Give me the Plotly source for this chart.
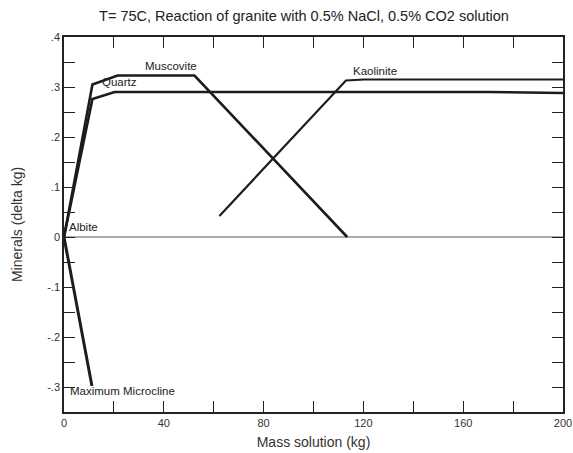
import plotly.graph_objects as go

# Data (mass solution kg, delta kg)
muscovite_x = [0, 11.4, 21.5, 52.3, 113.5]
muscovite_y = [0, 0.305, 0.323, 0.323, 0.0]

quartz_x = [0, 11.4, 20.3, 170.3, 200]
quartz_y = [0, 0.276, 0.290, 0.290, 0.288]

microcline_x = [0, 11.2]
microcline_y = [0, -0.298]

kaolinite_x = [62.3, 113.0, 120.3, 200]
kaolinite_y = [0.042, 0.313, 0.315, 0.315]

x_ticks = list(range(0, 201, 20))
x_tick_text = [str(v) if v % 40 == 0 else "" for v in x_ticks]
y_ticks = [-0.35, -0.3, -0.25, -0.2, -0.15, -0.1, -0.05, 0, 0.05, 0.1, 0.15, 0.2, 0.25, 0.3, 0.35, 0.4]
y_tick_text = ["", "-.3", "", "-.2", "", "-.1", "", "0", "", ".1", "", ".2", "", ".3", "", ".4"]

labels = [
    ("Albite", 1.2, 0.02),
    ("Quartz", 14.3, 0.31),
    ("Muscovite", 31.5, 0.342),
    ("Kaolinite", 115, 0.333),
    ("Maximum Microcline", 1.6, -0.308),
]

FONT = "Liberation Sans, Arial"
line_color = "#1c1c1c"
fig = go.Figure()

# zero line
fig.add_trace(go.Scatter(x=[0, 200], y=[0, 0], mode="lines",
                         line=dict(color="#555555", width=1), hoverinfo="skip"))

for xs, ys, w in [(muscovite_x, muscovite_y, 2.6), (quartz_x, quartz_y, 2.6),
                  (microcline_x, microcline_y, 3), (kaolinite_x, kaolinite_y, 2.2)]:
    fig.add_trace(go.Scatter(x=xs, y=ys, mode="lines",
                             line=dict(color=line_color, width=w)))

for text, x, y in labels:
    fig.add_annotation(x=x, y=y, text=text, showarrow=False, xanchor="left",
                       yanchor="middle", font=dict(size=11.5, color="#222222", family=FONT))

axis_common = dict(showline=True, linecolor="#222222", linewidth=1.5, mirror="ticks",
                   ticks="inside", ticklen=11, tickcolor="#222222", tickwidth=1,
                   showgrid=False, zeroline=False, automargin=False,
                   ticklabeloverflow="allow",
                   tickfont=dict(size=11, color="#333333", family=FONT))

fig.update_xaxes(range=[0, 200], tickvals=x_ticks, ticktext=x_tick_text,
                 title=dict(text="Mass solution (kg)", standoff=9,
                            font=dict(size=14, color="#333333", family=FONT)),
                 **axis_common)
fig.update_yaxes(range=[-0.35, 0.4], tickvals=y_ticks, ticktext=y_tick_text,
                 title=dict(text="Minerals (delta kg)", standoff=21,
                            font=dict(size=14, color="#333333", family=FONT)),
                 **axis_common)

fig.update_layout(
    width=573, height=453,
    margin=dict(l=64, r=10, t=37, b=41),
    paper_bgcolor="white", plot_bgcolor="white",
    showlegend=False,
    title=dict(text="T= 75C, Reaction of granite with 0.5% NaCl, 0.5% CO2 solution",
               x=0.5305, xref="container", xanchor="center", y=0.965, yanchor="middle",
               font=dict(size=14.5, color="#222222", family=FONT)),
)

# remove the default 8px page margin so the figure fills the window exactly
fig.write_html("out.html",
               config={"displayModeBar": False},
               post_script="document.body.style.margin='0';document.body.style.overflow='hidden';")
